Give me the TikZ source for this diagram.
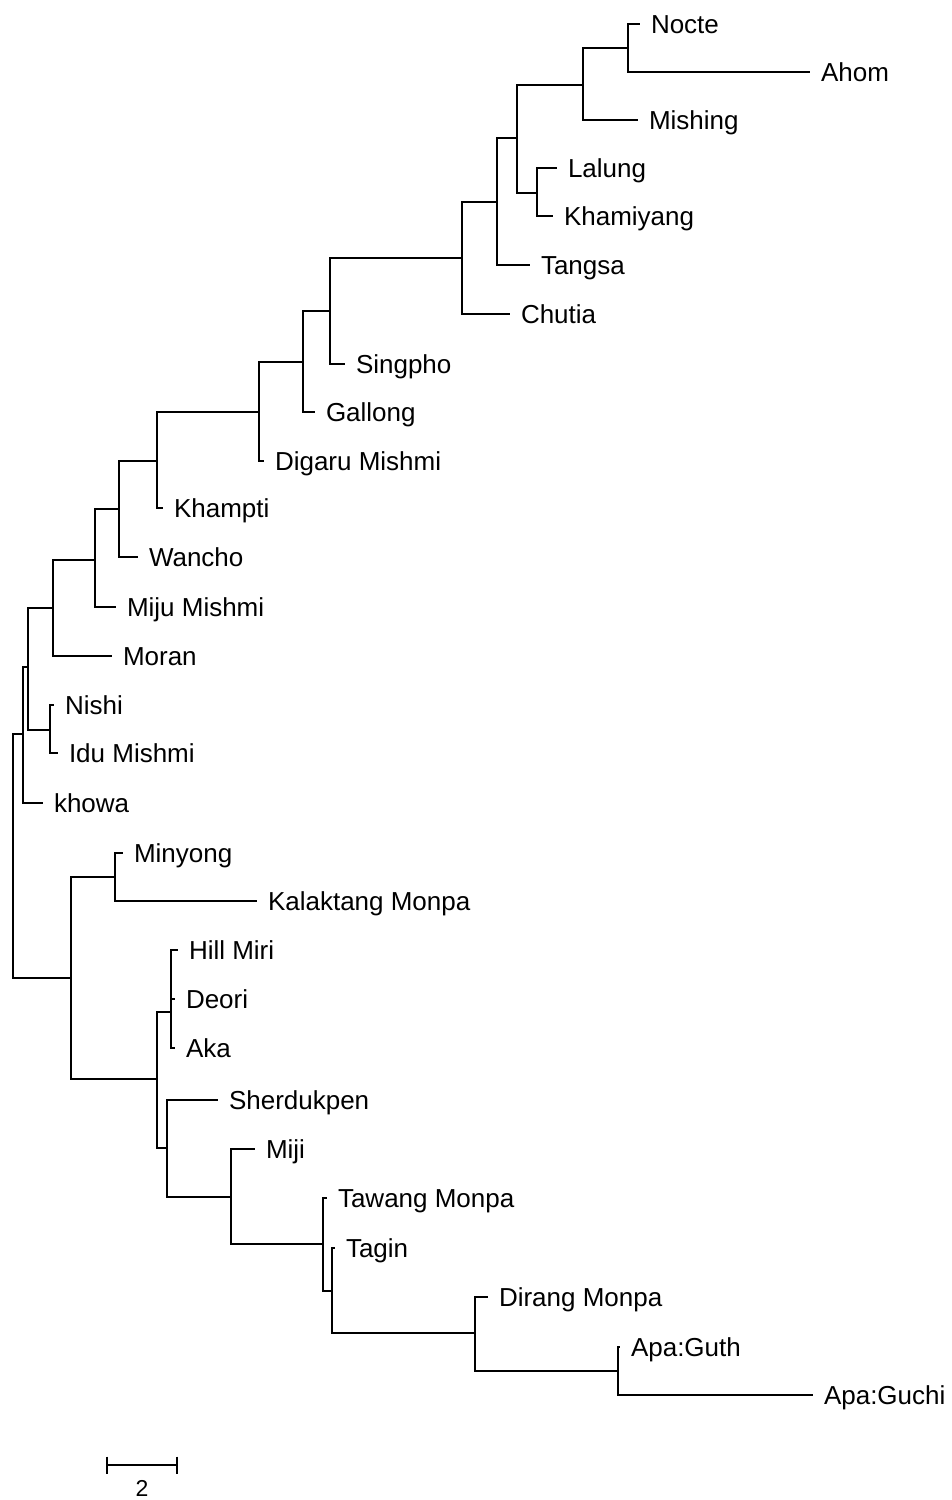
\documentclass[tikz,border=0pt]{standalone}
\usepackage{fontspec}
\setmainfont{Liberation Sans}
\begin{document}
\begin{tikzpicture}[x=1pt,y=-1pt]
\tikzset{
  br/.style={line width=2.3pt},
  lab/.style={anchor=west, inner xsep=11pt, inner ysep=0pt, outer sep=0pt,
              text height=18.5pt, text depth=0pt,
              font=\fontsize{26}{29}\selectfont},
  sbtext/.style={inner sep=0pt, font=\fontsize{23}{26}\selectfont}
}
\useasboundingbox (0,0) rectangle (951,1500);

% ---------- leaves ----------
\node[lab] (Nocte)     at (640,24)   {Nocte};
\node[lab] (Ahom)      at (810,72)   {Ahom};
\node[lab] (Mishing)   at (638,120)  {Mishing};
\node[lab] (Lalung)    at (557,168)  {Lalung};
\node[lab] (Khamiyang) at (553,216)  {Khamiyang};
\node[lab] (Tangsa)    at (530,265)  {Tangsa};
\node[lab] (Chutia)    at (510,314)  {Chutia};
\node[lab] (Singpho)   at (345,364)  {Singpho};
\node[lab] (Gallong)   at (315,412)  {Gallong};
\node[lab] (Digaru)    at (264,461)  {Digaru Mishmi};
\node[lab] (Khampti)   at (163,508)  {Khampti};
\node[lab] (Wancho)    at (138,557)  {Wancho};
\node[lab] (Miju)      at (116,607)  {Miju Mishmi};
\node[lab] (Moran)     at (112,656)  {Moran};
\node[lab] (Nishi)     at (54,705)   {Nishi};
\node[lab] (Idu)       at (58,753)   {Idu Mishmi};
\node[lab] (khowa)     at (43,803)   {khowa};
\node[lab] (Minyong)   at (123,853)  {Minyong};
\node[lab] (Kalaktang) at (257,901)  {Kalaktang Monpa};
\node[lab] (HillMiri)  at (178,950)  {Hill Miri};
\node[lab] (Deori)     at (175,999)  {Deori};
\node[lab] (Aka)       at (175,1048) {Aka};
\node[lab] (Sherdukpen) at (218,1100) {Sherdukpen};
\node[lab] (Miji)      at (255,1149) {Miji};
\node[lab] (Tawang)    at (327,1198) {Tawang Monpa};
\node[lab] (Tagin)     at (335,1248) {Tagin};
\node[lab] (Dirang)    at (488,1297) {Dirang Monpa};
\node[lab] (ApaGuth)   at (620,1347) {Apa:Guth};
\node[lab] (ApaGuchi)  at (813,1395) {Apa:Guchi};

% ---------- internal nodes ----------
\coordinate (nNA)   at (628,48);
\coordinate (nNAM)  at (583,85);
\coordinate (nLK)   at (537,193);
\coordinate (nTop4) at (517,138);
\coordinate (nT)    at (497,202);
\coordinate (nC)    at (462,258);
\coordinate (nS)    at (330,311);
\coordinate (nG)    at (303,362);
\coordinate (nD)    at (259,412);
\coordinate (nK)    at (157,461);
\coordinate (nW)    at (119,509);
\coordinate (nMi)   at (95,560);
\coordinate (nMo)   at (53,608);
\coordinate (nNI)   at (50,730);
\coordinate (nA)    at (28,667);
\coordinate (nKh)   at (23,734);
\coordinate (root)  at (13,856);
\coordinate (nB)    at (71,978);
\coordinate (nMK)   at (115,877);
\coordinate (nB2)   at (157,1079);
\coordinate (nHDA)  at (171,1012);
\coordinate (nSh)   at (167,1148);
\coordinate (nMj)   at (231,1197);
\coordinate (nTw)   at (323,1244);
\coordinate (nTg)   at (332,1291);
\coordinate (nDr)   at (475,1333);
\coordinate (nApa)  at (618,1371);

% ---------- branches ----------
\draw[br] (nNA) |- (Nocte.west);
\draw[br] (nNA) |- (Ahom.west);
\draw[br] (nNAM) |- (nNA);
\draw[br] (nNAM) |- (Mishing.west);
\draw[br] (nLK) |- (Lalung.west);
\draw[br] (nLK) |- (Khamiyang.west);
\draw[br] (nTop4) |- (nNAM);
\draw[br] (nTop4) |- (nLK);
\draw[br] (nT) |- (nTop4);
\draw[br] (nT) |- (Tangsa.west);
\draw[br] (nC) |- (nT);
\draw[br] (nC) |- (Chutia.west);
\draw[br] (nS) |- (nC);
\draw[br] (nS) |- (Singpho.west);
\draw[br] (nG) |- (nS);
\draw[br] (nG) |- (Gallong.west);
\draw[br] (nD) |- (nG);
\draw[br] (nD) |- (Digaru.west);
\draw[br] (nK) |- (nD);
\draw[br] (nK) |- (Khampti.west);
\draw[br] (nW) |- (nK);
\draw[br] (nW) |- (Wancho.west);
\draw[br] (nMi) |- (nW);
\draw[br] (nMi) |- (Miju.west);
\draw[br] (nMo) |- (nMi);
\draw[br] (nMo) |- (Moran.west);
\draw[br] (nNI) |- (Nishi.west);
\draw[br] (nNI) |- (Idu.west);
\draw[br] (nA) |- (nMo);
\draw[br] (nA) |- (nNI);
\draw[br] (nKh) |- (nA);
\draw[br] (nKh) |- (khowa.west);
\draw[br] (root) |- (nKh);
\draw[br] (root) |- (nB);
\draw[br] (nB) |- (nMK);
\draw[br] (nB) |- (nB2);
\draw[br] (nMK) |- (Minyong.west);
\draw[br] (nMK) |- (Kalaktang.west);
\draw[br] (nB2) |- (nHDA);
\draw[br] (nB2) |- (nSh);
\draw[br] (nHDA) |- (HillMiri.west);
\draw[br] (nHDA) |- (Deori.west);
\draw[br] (nHDA) |- (Aka.west);
\draw[br] (nSh) |- (Sherdukpen.west);
\draw[br] (nSh) |- (nMj);
\draw[br] (nMj) |- (Miji.west);
\draw[br] (nMj) |- (nTw);
\draw[br] (nTw) |- (Tawang.west);
\draw[br] (nTw) |- (nTg);
\draw[br] (nTg) |- (Tagin.west);
\draw[br] (nTg) |- (nDr);
\draw[br] (nDr) |- (Dirang.west);
\draw[br] (nDr) |- (nApa);
\draw[br] (nApa) |- (ApaGuth.west);
\draw[br] (nApa) |- (ApaGuchi.west);

% ---------- scale bar ----------
\coordinate (sbL) at (107,1465);
\coordinate (sbR) at (177,1465);
\draw[br] (sbL) -- (sbR);
\draw[br] ([yshift=8.5pt]sbL) -- ([yshift=-8.5pt]sbL);
\draw[br] ([yshift=8.5pt]sbR) -- ([yshift=-8.5pt]sbR);
\node[sbtext, anchor=north] (sbLab) at (142,1480) {2};
\end{tikzpicture}
\end{document}
